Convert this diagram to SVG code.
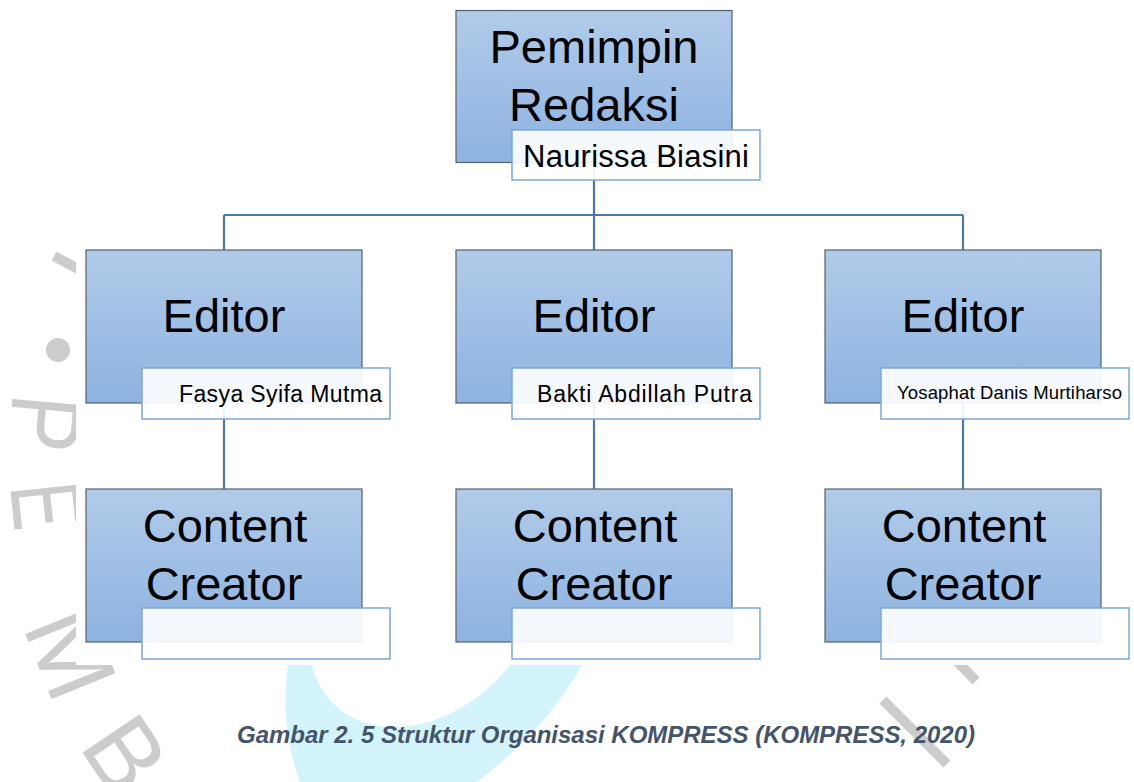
<svg xmlns="http://www.w3.org/2000/svg" width="1134" height="782" viewBox="0 0 1134 782">
<defs>
<linearGradient id="boxGrad" x1="0" y1="0" x2="0" y2="1">
<stop offset="0" stop-color="#b1cbe9"/>
<stop offset="1" stop-color="#8db3e1"/>
</linearGradient>
<style>
.box{fill:url(#boxGrad);stroke:#56616e;stroke-width:1.2}
.tag{fill:#ffffff;fill-opacity:0.91;stroke:#7ea6d8;stroke-width:1.5}
.title{font-family:"Liberation Sans",Arial,sans-serif;font-size:47px;fill:#000000;text-anchor:middle}
.name{font-family:"Liberation Sans",Arial,sans-serif;fill:#000000}
.conn{stroke:#4a78ab;stroke-width:2.2;fill:none}
.wm{fill:#cccccc;font-family:"Liberation Sans",Arial,sans-serif;font-size:100px}
.wml{stroke:#cccccc;stroke-width:10;fill:none}
.caption{font-family:"Liberation Sans",Arial,sans-serif;font-size:23px;font-weight:bold;font-style:italic;fill:#44546a}
</style>
</defs>
<rect x="0" y="0" width="1134" height="782" fill="#ffffff"/>
<g id="watermark">
<path d="M288,665 C282,700 287,750 300,782 L477,782 C522,748 560,705 582,665 L510,665 C482,700 440,727 393,727 C350,727 320,700 312,665 Z" fill="#d4f4fc"/>
<line class="wml" x1="54" y1="256" x2="84" y2="272"/>
<circle cx="58" cy="350" r="12" fill="#cccccc"/>
<text class="wm" transform="translate(13,392) rotate(95) scale(0.85,1)">P</text>
<text class="wm" transform="translate(10,486) rotate(84) scale(0.7,1)">E</text>
<text class="wm" transform="translate(22,626) rotate(68) scale(1.05,1)">M</text>
<text class="wm" transform="translate(78,746) rotate(56)">B</text>
<line class="wml" x1="883" y1="700" x2="947" y2="764"/>
<line class="wml" x1="952" y1="656" x2="976" y2="681"/>
</g>
<rect x="76" y="0" width="1058" height="665" fill="#ffffff"/>
<g id="connectors">
<path class="conn" d="M594,162 V215 M224,215 H963 M224,215 V250 M594,215 V250 M963,215 V250 M224,403 V489 M594,403 V489 M963,403 V489"/>
</g>
<g id="pemimpin">
<rect class="box" x="456" y="10.5" width="276" height="152"/>
<text class="title" x="594" y="63">Pemimpin</text>
<text class="title" x="594" y="121">Redaksi</text>
<rect class="tag" x="512" y="130" width="248" height="50"/>
<text class="name" x="523" y="167" font-size="31" textLength="226">Naurissa Biasini</text>
</g>
<g id="editor1">
<rect class="box" x="86" y="250" width="276" height="153"/>
<text class="title" x="224" y="332">Editor</text>
<rect class="tag" x="142" y="368" width="248" height="51"/>
<text class="name" x="179" y="402" font-size="23" textLength="203">Fasya Syifa Mutma</text>
</g>
<g id="editor2">
<rect class="box" x="456" y="250" width="276" height="153"/>
<text class="title" x="594" y="332">Editor</text>
<rect class="tag" x="512" y="368" width="248" height="51"/>
<text class="name" x="537" y="402" font-size="23" textLength="215">Bakti Abdillah Putra</text>
</g>
<g id="editor3">
<rect class="box" x="825" y="250" width="276" height="153"/>
<text class="title" x="963" y="332">Editor</text>
<rect class="tag" x="881" y="368" width="248" height="51"/>
<text class="name" x="897" y="399" font-size="18.5" textLength="225">Yosaphat Danis Murtiharso</text>
</g>
<g id="creator1">
<rect class="box" x="86" y="489" width="276" height="153"/>
<text class="title" x="225" y="542">Content</text>
<text class="title" x="224" y="600">Creator</text>
<rect class="tag" x="142" y="608" width="248" height="51"/>
</g>
<g id="creator2">
<rect class="box" x="456" y="489" width="276" height="153"/>
<text class="title" x="595" y="542">Content</text>
<text class="title" x="594" y="600">Creator</text>
<rect class="tag" x="512" y="608" width="248" height="51"/>
</g>
<g id="creator3">
<rect class="box" x="825" y="489" width="276" height="153"/>
<text class="title" x="964" y="542">Content</text>
<text class="title" x="963" y="600">Creator</text>
<rect class="tag" x="881" y="608" width="248" height="51"/>
</g>
<text class="caption" x="237" y="743" textLength="738" lengthAdjust="spacingAndGlyphs">Gambar 2. 5 Struktur Organisasi KOMPRESS (KOMPRESS, 2020)</text>
</svg>
